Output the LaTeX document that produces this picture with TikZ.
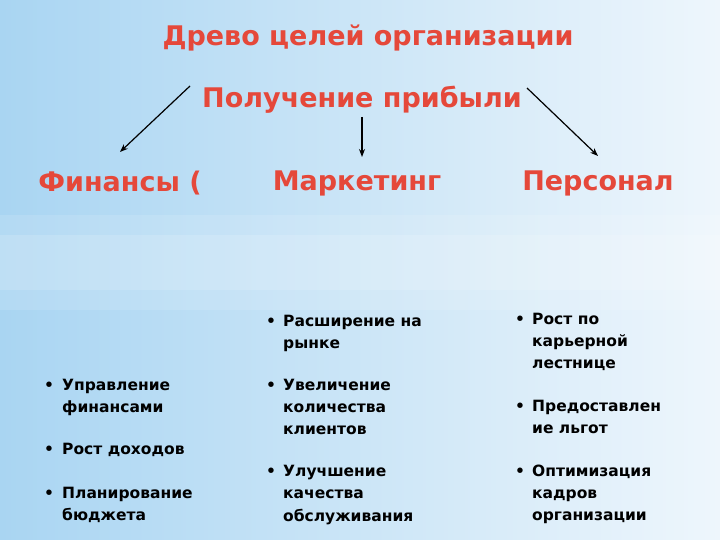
\documentclass[tikz,border=0pt]{standalone}
\usepackage{fontspec}
\setmainfont{DejaVu Sans}
\newfontfamily\headfont{DejaVu Sans}
\usetikzlibrary{arrows.meta}
\definecolor{hred}{HTML}{E5483A}
\definecolor{bgblue}{HTML}{A9D5F2}
\definecolor{bgpale}{HTML}{EEF6FC}
\begin{document}
\begin{tikzpicture}[x=1pt,y=-1pt,
  head/.style={font=\headfont\bfseries\fontsize{27}{30}\selectfont, text=hred, inner sep=0pt},
  lvl/.style={font=\headfont\bfseries\fontsize{27}{32}\selectfont, text=hred, inner sep=0pt},
  itm/.style={font=\bfseries\fontsize{15.5}{22}\selectfont, anchor=base west, inner sep=0pt},
  arr/.style={-{Stealth[length=8pt,width=6pt]}, line width=1.2pt}]
\shade[left color=bgblue, right color=bgpale] (0,0) rectangle (720,540);
\shade[top color=white, bottom color=white, middle color=white, opacity=0.0] (0,0) rectangle (1,1);
\fill[white, opacity=0.12] (0,215) rectangle (720,310);
\fill[white, opacity=0.15] (0,235) rectangle (720,290);
\useasboundingbox (0,0) rectangle (720,540);
\node[head] (t) at (368,38) {Древо целей организации};
\node[head] (p) at (362,100) {Получение прибыли};
\node[lvl] (f) at (120,183) {Финансы (};
\node[lvl] (m) at (357,183) {Маркетинг};
\node[lvl] (s) at (598,183) {Персонал};
\coordinate (pl) at (190,86); \coordinate (fl) at (120,152);
\coordinate (pd) at (362,117); \coordinate (md) at (362,157);
\coordinate (pr) at (527,88); \coordinate (sr) at (598,156);
\draw[arr] (pl) -- (fl);
\draw[arr] (pd) -- (md);
\draw[arr] (pr) -- (sr);
% column 1
\foreach \y/\t [count=\i] in {390/Управление, 412/финансами, 454/Рост доходов, 498/Планирование, 520/бюджета}
  \node[itm] (a\i) at (62,\y) {\t};
\foreach \y [count=\i] in {390,454,498} \node[itm] (ab\i) at (44,\y) {•};
% column 2
\foreach \y/\t [count=\i] in {326/Расширение на, 348/рынке, 390/Увеличение, 412/количества, 434/клиентов, 476/Улучшение, 498/качества, 521/обслуживания}
  \node[itm] (b\i) at (283,\y) {\t};
\foreach \y [count=\i] in {326,390,476} \node[itm] (bb\i) at (266,\y) {•};
% column 3
\foreach \y/\t [count=\i] in {324/Рост по, 346/карьерной, 368/лестнице, 411/Предоставлен, 433/ие льгот, 476/Оптимизация, 498/кадров, 520/организации}
  \node[itm] (c\i) at (532,\y) {\t};
\foreach \y [count=\i] in {324,411,476} \node[itm] (cb\i) at (515,\y) {•};
\end{tikzpicture}
\end{document}
